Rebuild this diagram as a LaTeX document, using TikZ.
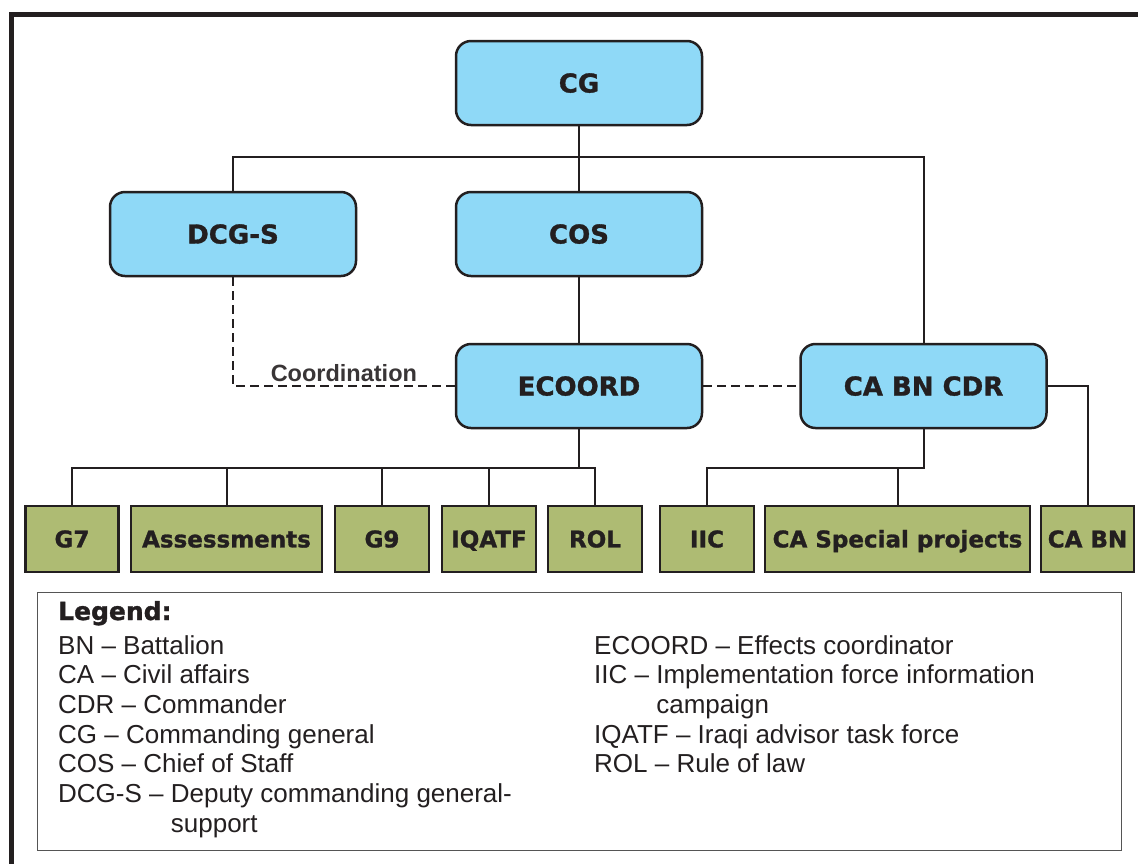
\documentclass[tikz,border=0pt]{standalone}
\usepackage{fontspec}
\setmainfont{Liberation Sans}
\newfontfamily\heavyfont{DejaVu Sans}[BoldFeatures={FakeBold=1.2}]
\definecolor{cmdblue}{RGB}{143,217,247}
\definecolor{staffgreen}{RGB}{174,187,115}
\definecolor{inkdark}{RGB}{35,31,32}
\definecolor{legendgray}{RGB}{85,85,85}

\tikzset{
  cmdbox/.style={draw=inkdark, line width=2.5pt, fill=cmdblue, rounded corners=15pt,
    minimum width=246pt, minimum height=84pt, inner sep=0pt, text=inkdark,
    text height=19pt, text depth=0pt,
    font=\heavyfont\bfseries\fontsize{26}{30}\selectfont},
  staffbox/.style={draw=inkdark, line width=2.5pt, fill=staffgreen,
    minimum height=66pt, inner sep=0pt, text=inkdark,
    text height=16.8pt, text depth=0pt,
    font=\heavyfont\bfseries\fontsize{23}{27}\selectfont},
  link/.style={draw=inkdark, line width=2pt},
  coordlink/.style={link, dash pattern=on 9pt off 5pt},
  legendtext/.style={anchor=base west, inner sep=0pt, text=inkdark,
    font=\fontsize{26}{30}\selectfont},
}

\begin{document}
\begin{tikzpicture}[x=1pt,y=-1pt]
\useasboundingbox (0,0) rectangle (1138,863);

% outer frame (runs off the page on the right and bottom)
\draw[inkdark, line width=5pt] (11.5,875) -- (11.5,14) -- (1150,14);

% command boxes
\node[cmdbox] (cg) at (579,83) {CG};
\node[cmdbox] (dcgs) at (233,234) {DCG-S};
\node[cmdbox] (cos) at (579,234) {COS};
\node[cmdbox] (ecoord) at (579,386) {ECOORD};
\node[cmdbox] (cabncdr) at (923.5,386) {CA BN CDR};

% staff sections
\node[staffbox, minimum width=93pt] (g7) at (72,539) {G7};
\node[staffbox, minimum width=191pt] (assess) at (226.5,539) {Assessments};
\node[staffbox, minimum width=94pt] (g9) at (382,539) {G9};
\node[staffbox, minimum width=94pt] (iqatf) at (489,539) {IQATF};
\node[staffbox, minimum width=94pt] (rol) at (595,539) {ROL};
\node[staffbox, minimum width=94pt] (iic) at (707,539) {IIC};
\node[staffbox, minimum width=265pt] (casp) at (897.5,539) {CA Special projects};
\node[staffbox, minimum width=93pt] (cabn) at (1087.5,539) {CA BN};

% command lines
\draw[link] (cg.south) -- ++(0,31) -| (dcgs.north);
\draw[link] (cg.south) -- ++(0,31) -| (cabncdr.north);
\draw[link] (cg.south) -- (cos.north);
\draw[link] (cos.south) -- (ecoord.north);
\foreach \n in {g7,assess,g9,iqatf,rol}
  \draw[link] (ecoord.south) -- ++(0,39) -| (\n.north);
\foreach \n in {iic,casp}
  \draw[link] (cabncdr.south) -- ++(0,39) -| (\n.north);
\draw[link] (cabncdr.east) -| (cabn.north);

% coordination lines
\draw[coordlink] (dcgs.south) |- (ecoord.west)
  node[pos=0.75, above, inner sep=3pt, text=inkdark!90,
    font=\bfseries\fontsize{23.5}{27}\selectfont] (coordlabel) {Coordination};
\draw[coordlink] (ecoord.east) -- (cabncdr.west);

% legend
\node[draw=legendgray, line width=1.5pt, minimum width=1084pt, minimum height=258pt,
  inner sep=0pt] (legend) at (579.5,721.5) {};
\node[anchor=base west, inner sep=0pt, text=inkdark,
  font=\heavyfont\bfseries\fontsize{25}{29}\selectfont] (legendtitle) at (58,620) {Legend:};
\foreach \txt [count=\i from 0] in {BN – Battalion, CA – Civil affairs, CDR – Commander,
    CG – Commanding general, COS – Chief of Staff, DCG-S – Deputy commanding general-,
    \phantom{DCG-S – }support}
  \node[legendtext] (leftline\i) at (58,{654+29.7*\i}) {\txt};
\foreach \txt [count=\i from 0] in {ECOORD – Effects coordinator,
    IIC – Implementation force information, \phantom{IIC – }campaign,
    IQATF – Iraqi advisor task force, ROL – Rule of law}
  \node[legendtext] (rightline\i) at (594,{654+29.7*\i}) {\txt};
\end{tikzpicture}
\end{document}
